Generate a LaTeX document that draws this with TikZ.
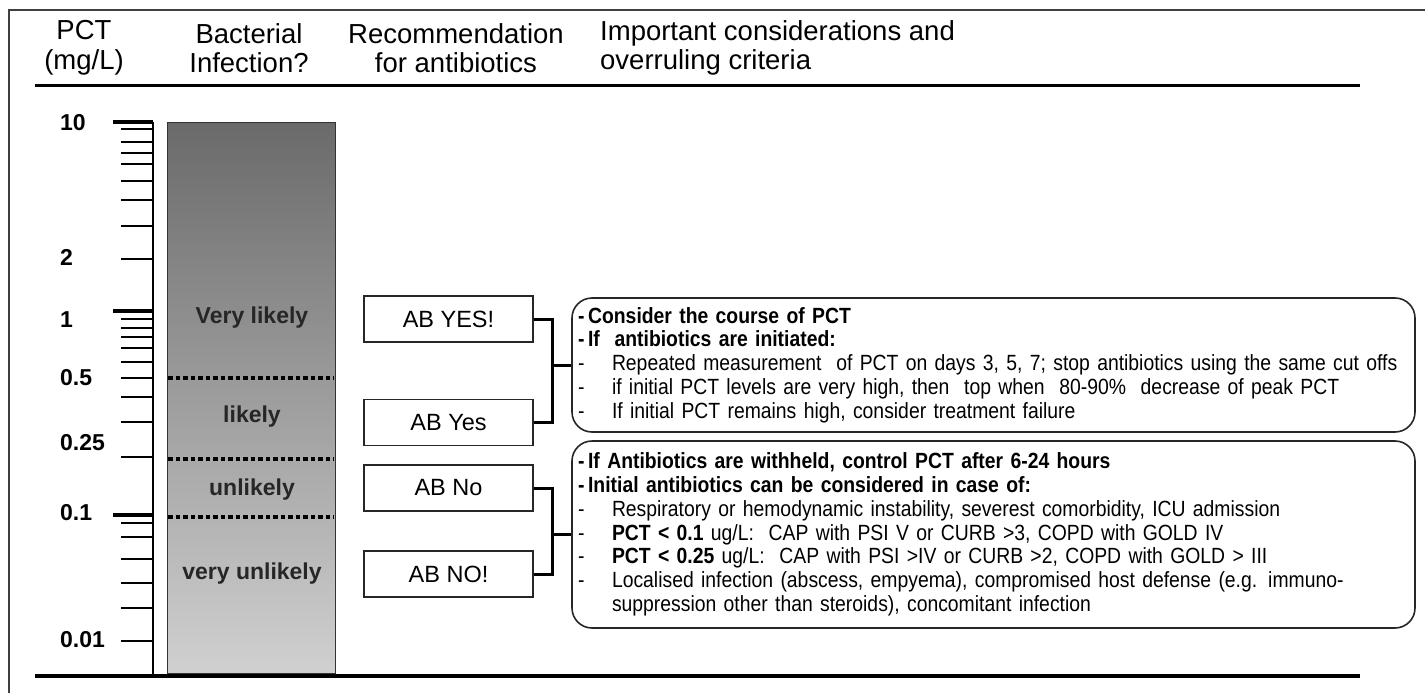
\documentclass[tikz,border=0pt]{standalone}
\usepackage{fontspec}
\setmainfont{Liberation Sans}
\newfontfamily\narrowsans{Liberation Sans}[FakeStretch=0.88]
\usetikzlibrary{calc}

\definecolor{bartop}{HTML}{6A6A6A}
\definecolor{barmid}{HTML}{A4A4A4}
\definecolor{barbot}{HTML}{D0D0D0}
\newcommand{\notedash}{\makebox[34pt][l]{-}}

\begin{document}
\begin{tikzpicture}[
        x=1pt, y=-1pt,
        hdr/.style={align=center, inner sep=0pt, font=\fontsize{27.5}{29.5}\selectfont},
        axlabel/.style={anchor=west, inner sep=0pt, font=\fontsize{23}{25}\selectfont\bfseries},
        zone/.style={inner sep=0pt, text=black!85, font=\fontsize{23}{25}\selectfont\bfseries},
        abbox/.style={rectangle, draw=black!85, line width=1.5pt, minimum width=169pt,
                      minimum height=46pt, inner sep=0pt, font=\fontsize{23.5}{26}\selectfont},
        notebox/.style={rectangle, rounded corners=20pt, draw=black!85, line width=1.6pt,
                        minimum width=843pt, text width=831pt, inner xsep=6pt, align=left,
                        font=\narrowsans\fontsize{22}{23.8}\selectfont},
        cutline/.style={line width=3.4pt, dash pattern=on 4.5pt off 3pt},
        joiner/.style={line width=3pt},
        hline/.style={line width=3pt},
    ]
        \useasboundingbox (0,0) rectangle (1425,693);
        % outer frame and rules
        \draw[black!75, line width=1.8pt] (9,693) -- (9,10) -- (1425,10);
        \draw[hline] (35,86) -- (1360,86);
        \draw[hline, line width=3.5pt] (35,676) -- (1360,676);

        % column heads
        \node[hdr] (hpct) at (84,48) {PCT\\(mg/L)};
        \node[hdr] (hbact) at (249,48) {Bacterial\\Infection?};
        \node[hdr] (hrec) at (456,48) {Recommendation\\for antibiotics};
        \node[hdr, align=left, anchor=west] (hcons) at (600,48)
            {Important considerations and\\overruling criteria};

        % PCT scale
        \draw[line width=2pt] (153,122) -- (153,676);
        \foreach \ty in {129,142,153,164,181,200,226,259,319,328,337,348,362,378,397,
                         422,457,523,537,559,583,608,641}
            \draw[line width=1.6pt] (121,\ty) -- (153,\ty);
        \foreach \ty in {122,311,515}
            \draw[line width=3.5pt] (113,\ty) -- (153,\ty);
        \foreach \ty/\tl [count=\i] in {123/10, 257/2, 320/1, 378/0.5, 443/0.25, 513/0.1, 640/0.01}
            \node[axlabel] (tick\i) at (60,\ty) {\tl};

        % likelihood bar
        \node[rectangle, draw=black!80, line width=1pt, minimum width=168pt, minimum height=551pt,
              top color=bartop, middle color=barmid, bottom color=barbot] (bar) at (251,397.5) {};
        \foreach \ty in {378,459,517}
            \draw[cutline] (168,\ty) -- (334,\ty);
        \node[zone] (vlik) at (252,318) {Very likely};
        \node[zone] (lik) at (252,417) {likely};
        \node[zone] (unlik) at (252,490) {unlikely};
        \node[zone] (vunlik) at (252,574) {very unlikely};

        % recommendations
        \node[abbox] (abyes2) at (448.5,319) {AB YES!};
        \node[abbox] (abyes) at (448.5,422.5) {AB Yes};
        \node[abbox] (abno) at (448.5,488) {AB No};
        \node[abbox] (abno2) at (448.5,574) {AB NO!};

        % considerations
        \node[notebox, minimum height=134pt] (pos) at (993.5,365)
            {\textbf{-\,Consider the course of PCT}\\
             \textbf{-\,If~ antibiotics are initiated:}\\
             \notedash Repeated measurement~ of PCT on days 3, 5, 7; stop antibiotics using the same cut offs\\
             \notedash if initial PCT levels are very high, then~ top when~ 80-90\%~ decrease of peak PCT\\
             \notedash If initial PCT remains high, consider treatment failure};
        \node[notebox, minimum height=187pt] (neg) at (993.5,534.5)
            {\textbf{-\,If Antibiotics are withheld, control PCT after 6-24 hours}\\
             \textbf{-\,Initial antibiotics can be considered in case of:}\\
             \notedash Respiratory or hemodynamic instability, severest comorbidity, ICU admission\\
             \notedash \textbf{PCT < 0.1} ug/L:~ CAP with PSI V or CURB >3, COPD with GOLD IV\\
             \notedash \textbf{PCT < 0.25} ug/L:~ CAP with PSI >IV or CURB >2, COPD with GOLD > III\\
             \notedash Localised infection (abscess, empyema), compromised host defense (e.g. immuno-\\
             \hspace*{34pt}suppression other than steroids), concomitant infection};

        % brackets
        \coordinate (jpos) at (552,365);
        \coordinate (jneg) at (552,534.5);
        \draw[joiner] (abyes2.east) -| (jpos) |- (abyes.east);
        \draw[joiner] (jpos) -- (pos.west);
        \draw[joiner] (abno.east) -| (jneg) |- (abno2.east);
        \draw[joiner] (jneg) -- (neg.west);
    \end{tikzpicture}
\end{document}
